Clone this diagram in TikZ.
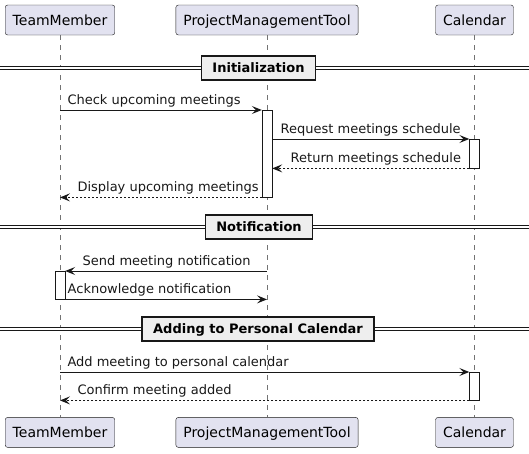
\documentclass[tikz,border=0pt]{standalone}
\usepackage{fontspec}
\setmainfont{DejaVu Sans}
\usepackage{tikz}
\usetikzlibrary{arrows.meta,positioning,calc}
\definecolor{partfill}{HTML}{E2E2F0}
\definecolor{umlline}{HTML}{181818}
\definecolor{divfill}{HTML}{EEEEEE}
\begin{document}
\begin{tikzpicture}[x=1pt,y=-1pt,>={Stealth[length=10pt,width=8pt,inset=4pt]},
  part/.style={draw=umlline,fill=partfill,rounded corners=2.5pt,minimum height=30pt,inner xsep=7.5pt,text height=10.2pt,text depth=0pt,font=\fontsize{14}{16}\selectfont},
  act/.style={draw=umlline,fill=white,minimum width=10pt,inner sep=0pt,anchor=north},
  life/.style={black!55,line width=.8pt,dash pattern=on 5pt off 5pt},
  msg/.style={->,umlline,line width=1pt},
  ret/.style={msg,dash pattern=on 2pt off 2pt},
  mlab/.style={anchor=base west,inner sep=0pt,yshift=6pt,font=\fontsize{13}{15}\selectfont},
  sep/.style={draw=umlline,line width=1pt,double=white,double distance=2.5pt},
  divbox/.style={draw=umlline,fill=divfill,line width=1.5pt,minimum height=24pt,inner xsep=11pt,text height=9.5pt,text depth=0pt,font=\fontsize{13}{15}\selectfont\bfseries}]
\useasboundingbox (0,0) rectangle (529,453);
\node[part] (tm) at (60,20) {TeamMember};
\node[part] (pmt) at (267,20) {ProjectManagementTool};
\node[part] (cal) at (474.5,20) {Calendar};
\node[part,below=382pt of tm] (tmb) {TeamMember};
\node[part,below=382pt of pmt] (pmtb) {ProjectManagementTool};
\node[part,below=382pt of cal] (calb) {Calendar};
\draw[life] (tm) -- (tmb);
\draw[life] (pmt) -- (pmtb);
\draw[life] (cal) -- (calb);
\draw[sep] (0,68) -- (529,68);
\node[divbox] (init) at (258.5,68) {Initialization};
\draw[sep] (0,227) -- (529,227);
\node[divbox] (notif) at (259,227) {Notification};
\draw[sep] (0,329) -- (529,329);
\node[divbox] (adding) at (258,329) {Adding to Personal Calendar};
\node[act,minimum height=87pt] (a1) at (267,110) {};
\node[act,minimum height=29pt] (a2) at (474.5,139) {};
\node[act,minimum height=28pt] (a3) at (60,271) {};
\node[act,minimum height=28pt] (a4) at (474.5,372) {};
\draw[msg] (a1.north west -| tm) -- node[mlab,pos=0,xshift=7pt]{Check upcoming meetings} (a1.north west);
\draw[msg] (a2.north west -| a1.east) -- node[mlab,pos=0,xshift=8pt]{Request meetings schedule} (a2.north west);
\draw[ret] (a2.south west) -- node[mlab,pos=1,xshift=18pt]{Return meetings schedule} (a2.south west -| a1.east);
\draw[ret] (a1.south west) -- node[mlab,pos=1,xshift=17pt]{Display upcoming meetings} (a1.south west -| tm);
\draw[msg] (a3.north east -| pmt) -- node[mlab,pos=1,xshift=17pt]{Send meeting notification} (a3.north east);
\draw[msg] (a3.south east) -- node[mlab,pos=0,xshift=2pt]{Acknowledge notification} (a3.south east -| pmt);
\draw[msg] (a4.north west -| tm) -- node[mlab,pos=0,xshift=7pt]{Add meeting to personal calendar} (a4.north west);
\draw[ret] (a4.south west) -- node[mlab,pos=1,xshift=17pt]{Confirm meeting added} (a4.south west -| tm);
\end{tikzpicture}
\end{document}
